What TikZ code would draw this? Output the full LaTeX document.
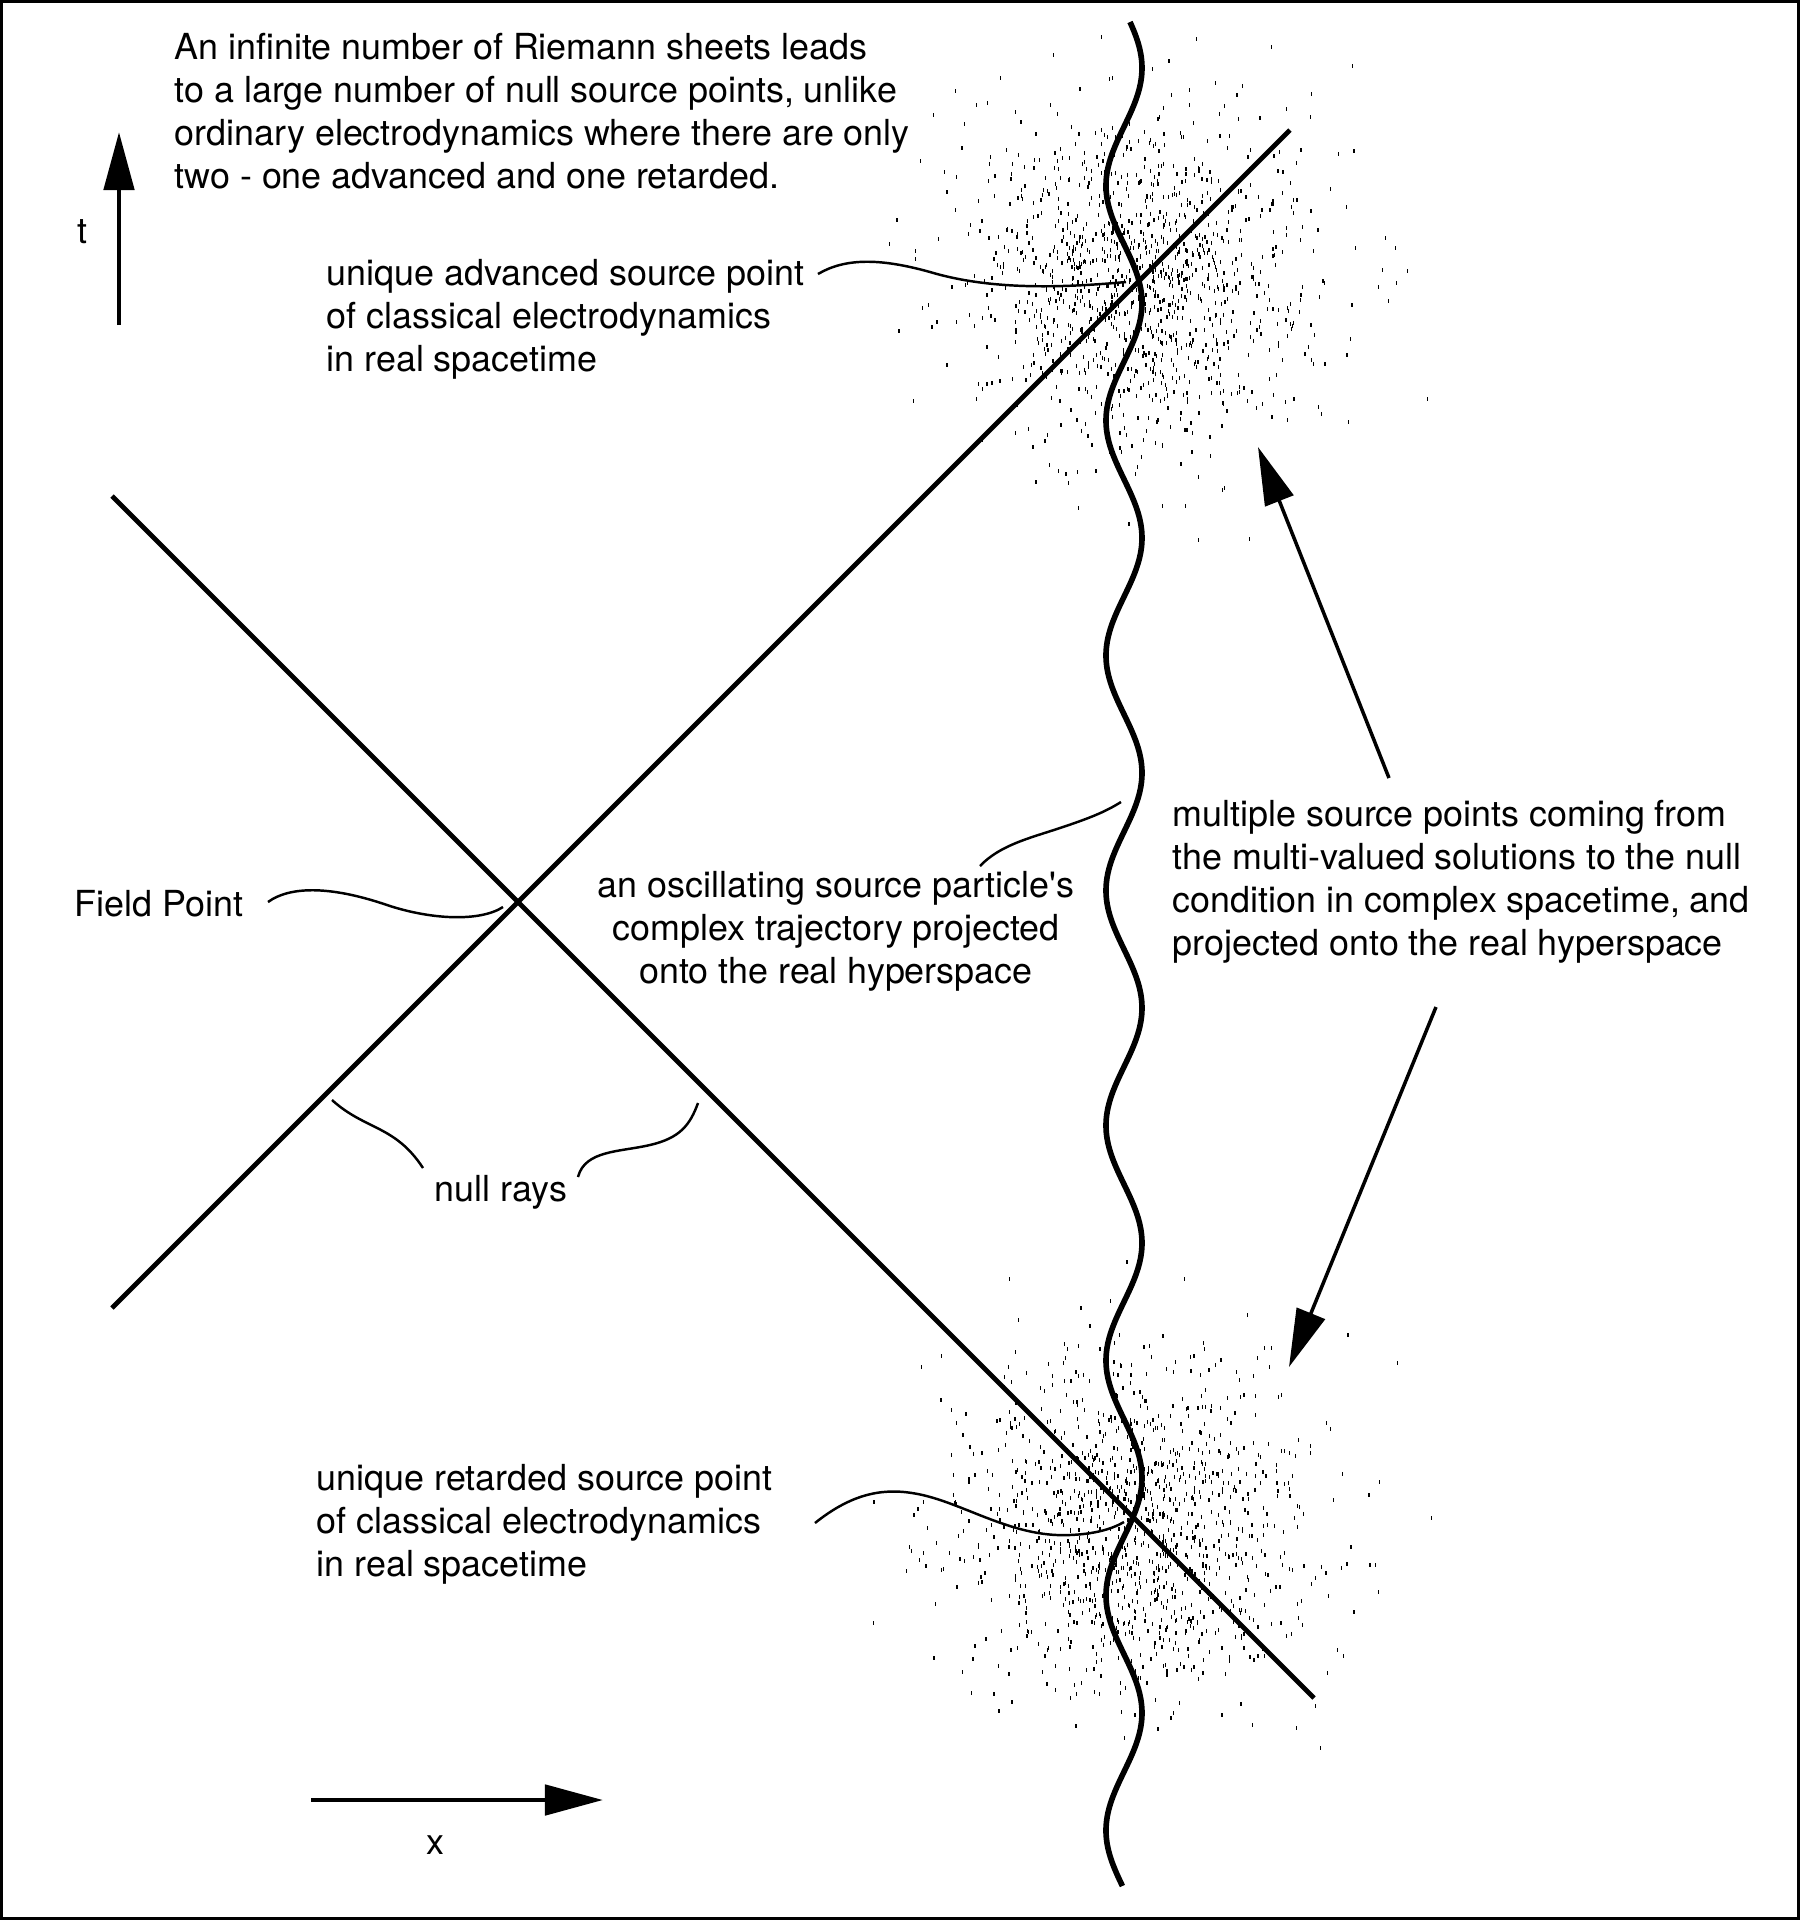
\documentclass[tikz,border=0pt]{standalone}
\usepackage{fontspec}
\setmainfont{TeX Gyre Heros}
\usetikzlibrary{arrows.meta}
\tikzstyle{lbl}=[font={\fontsize{10.2}{12.2}\selectfont}, inner sep=0pt,
  align=left, anchor=base west]
\tikzstyle{ray}=[line width=1.35pt]
\tikzstyle{wave}=[line width=1.6pt]
\tikzstyle{lead}=[line width=0.7pt]
\tikzstyle{axis}=[-{Triangle[length=5.8mm, width=3mm]}, line width=1.4pt]
\tikzstyle{ptr}=[-{Triangle[length=5.8mm, width=3mm]}, line width=1pt]

\begin{document}
\begin{tikzpicture}[x=0.01cm, y=-0.01cm]
        \useasboundingbox (0,0) rectangle (1800,1920);
        \draw[line width=0.85pt] (1.5,1.5) rectangle (1798.5,1918.5);

        \coordinate (fp) at (518,902);
        \coordinate (advpt) at (1126,282);
        \coordinate (retpt) at (1124,1522);

        % stipple round the two source points
        \pgfmathsetseed{11}
        \foreach \cx/\cy in {1142/276, 1138/1524}{
          \foreach \i in {1,...,1250}{
            \pgfmathsetmacro\rr{84*sqrt(-2*ln(0.001+0.999*rnd))}
            \pgfmathsetmacro\aa{360*rnd}
            \fill ({\cx+\rr*cos(\aa)},{\cy+\rr*sin(\aa)}) rectangle ++(1.3,4);
          }
        }

        \coordinate (a0) at (112,1308);
        \coordinate (a1) at (1290,130);
        \coordinate (b0) at (112,496);
        \coordinate (b1) at (1314,1698);
        \draw[ray] (a0) -- (a1);
        \draw[ray] (b0) -- (b1);

        \draw[wave] plot[domain=22:1886, samples=320, smooth, variable=\s]
          ({1124+18*sin((\s-244.25)*1.531915)},{\s});

        \node[lbl] (note) at (174,188) {An infinite number of Riemann sheets leads\\
          to a large number of null source points, unlike\\
          ordinary electrodynamics where there are only\\
          two - one advanced and one retarded.};
        \node[lbl, anchor=base] (tlab) at (82,243) {t};
        \node[lbl] (adv) at (326,371) {unique advanced source point\\
          of classical electrodynamics\\in real spacetime};
        \node[lbl] (fieldpt) at (74,916) {Field Point};
        \node[lbl, align=center, anchor=base] (osc) at (836,983)
          {an oscillating source particle\textquotesingle s\\
          complex trajectory projected\\onto the real hyperspace};
        \node[lbl] (multi) at (1172,955) {multiple source points coming from\\
          the multi-valued solutions to the null\\
          condition in complex spacetime, and\\
          projected onto the real hyperspace};
        \node[lbl, anchor=base] (nullrays) at (501,1201) {null rays};
        \node[lbl] (ret) at (316,1576) {unique retarded source point\\
          of classical electrodynamics\\in real spacetime};
        \node[lbl, anchor=base] (xlab) at (435,1854) {x};

        \coordinate (t0) at (119,325);
        \coordinate (t1) at (119,132);
        \coordinate (x0) at (311,1800);
        \coordinate (x1) at (603,1800);
        \draw[axis] (t0) -- (t1);
        \draw[axis] (x0) -- (x1);

        \coordinate (up0) at (1389,778);
        \coordinate (up1) at (1258,447);
        \coordinate (dn0) at (1436,1007);
        \coordinate (dn1) at (1289,1367);
        \draw[ptr] (up0) -- (up1);
        \draw[ptr] (dn0) -- (dn1);

        \coordinate (advL) at (818,274);
        \coordinate (fpL) at (268,902);
        \coordinate (fpE) at (503,907);
        \coordinate (oscL) at (980,866);
        \coordinate (oscE) at (1121,802);
        \coordinate (nrL) at (423,1168);
        \coordinate (nrLE) at (332,1100);
        \coordinate (nrR) at (578,1177);
        \coordinate (nrRE) at (698,1103);
        \coordinate (retL) at (815,1523);
        \draw[lead] (advL) .. controls (845,258) and (880,258) .. (930,272)
          .. controls (990,290) and (1060,288) .. (advpt);
        \draw[lead] (fpL) .. controls (290,886) and (330,886) .. (384,904)
          .. controls (430,920) and (480,922) .. (fpE);
        \draw[lead] (oscL) .. controls (1000,845) and (1030,838) .. (1060,828)
          .. controls (1090,818) and (1105,812) .. (oscE);
        \draw[lead] (nrL) .. controls (395,1125) and (365,1130) .. (nrLE);
        \draw[lead] (nrR) .. controls (585,1150) and (620,1152) .. (650,1145)
          .. controls (680,1138) and (690,1125) .. (nrRE);
        \draw[lead] (retL) .. controls (850,1495) and (880,1488) .. (912,1493)
          .. controls (960,1500) and (1010,1538) .. (1070,1535)
          .. controls (1095,1534) and (1112,1529) .. (retpt);
      \end{tikzpicture}
\end{document}
